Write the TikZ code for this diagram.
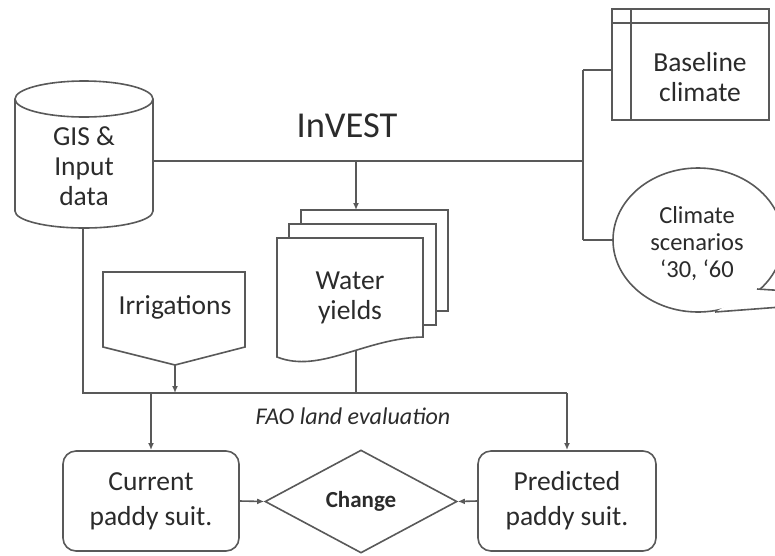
\documentclass[tikz,border=0pt]{standalone}
\usepackage{fontspec}
\setmainfont{Carlito}
\usetikzlibrary{shapes.geometric,arrows.meta,calc}
\definecolor{ln}{HTML}{595959}
\definecolor{tx}{HTML}{2B2B2B}
\begin{document}
\begin{tikzpicture}[x=1pt,y=-1pt,line width=1.6pt,color=ln,
  lbl/.style={text=tx,align=center,inner sep=0,font=\fontsize{27.5}{30}\selectfont},
  arr/.style={-{Latex[length=7pt,width=6pt]}},
  box/.style={draw,fill=white,rounded corners=13,minimum width=176,minimum height=100,inner sep=0,text=tx,align=center,font=\fontsize{27.5}{35}\selectfont}]
\useasboundingbox (0,0) rectangle (775,555);
\clip (0,0) rectangle (775,555);

% connector coordinates
\coordinate (gisE) at (153,161);
\coordinate (gisS) at (83,228);
\coordinate (j1) at (583,161);
\coordinate (j2) at (583,70);
\coordinate (j3) at (583,240);
\coordinate (top) at (356,161);
\coordinate (wyT) at (356,210);
\coordinate (wyB) at (356,340);
\coordinate (hL) at (83,393);
\coordinate (hR) at (567,393);
\coordinate (hI) at (175,393);
\coordinate (hW) at (356,393);
\coordinate (hC) at (151,393);
\coordinate (irrB) at (175,365);

% connectors
\draw (gisE) -- (j1);
\draw (j2) -- (j3);
\draw[arr] (top) -- (wyT);
\draw (gisS) -- (hL) -- (hR);
\draw[arr] (hR) -- (567,450);
\draw[arr] (hC) -- (151,450);
\draw[arr] (irrB) -- (hI);
\draw (wyB) -- (hW);

% GIS cylinder
\fill[white] (15,99) rectangle (153,211);
\begin{scope}
  \clip (0,211) rectangle (200,240);
  \draw[fill=white] (84,211) ellipse [x radius=69, y radius=17];
\end{scope}
\draw (15,99) -- (15,211) (153,99) -- (153,211);
\draw[fill=white] (84,99) ellipse [x radius=69, y radius=18];
\node[lbl] (gis) at (84,166) {GIS \&\\Input\\data};

% InVEST label
\node[text=tx,inner sep=0,font=\fontsize{36.5}{40}\selectfont] (invest) at (347,126) {InVEST};

% Baseline climate
\node[draw,fill=white,minimum width=157,minimum height=111,inner sep=0] (base) at (690.5,64.5) {};
\draw ($(base.north west)+(0,15)$) -- ($(base.north east)+(0,15)$);
\draw ($(base.north west)+(20,0)$) -- ($(base.south west)+(20,0)$);
\node[lbl] (basetxt) at (700,77) {Baseline\\climate};
\draw (j2) -- (j2 -| base.west);

% Climate scenarios (callout)
\node[ellipse,draw,fill=white,minimum width=170,minimum height=144,inner sep=0] (clim) at (698,240) {};
\coordinate (cUp) at (757,289);
\coordinate (cLo) at (715,312);
\coordinate (cTip) at (900,298);
\fill[white] (cUp) -- (cTip) -- (cLo) -- cycle;
\draw (cUp) -- (cTip) (cLo) -- (cTip);
\node[lbl,font=\fontsize{24.5}{27}\selectfont] (climtxt) at (697,244) {Climate\\scenarios\\‘30, ‘60};
\draw (j3) -- (clim.west);

% Water yields (multi-document)
\draw[fill=white] (301,224) -- (301,210) -- (448,210) -- (448,311) -- (436,311);
\draw[fill=white] (289,238) -- (289,224) -- (436,224) -- (436,325) -- (423,325);
\draw[fill=white] (277,238) -- (423,238) -- (423,337)
   .. controls (365,338) and (320,374) .. (277,357) -- cycle;
\node[lbl] (wy) at (350,298) {Water\\yields};

% Irrigations
\draw[fill=white] (103,272) -- (245,272) -- (245,347) -- (175,365) -- (103,347) -- cycle;
\node[lbl] (irr) at (175,307) {Irrigations};

% FAO label
\node[text=tx,inner sep=0,font=\itshape\fontsize{24}{26}\selectfont] (fao) at (353,416) {FAO land evaluation};

% bottom row
\node[box] (cur) at (151,501) {Current\\paddy suit.};
\node[box,minimum width=178] (pred) at (567,501) {Predicted\\paddy suit.};
\node[diamond,draw,fill=white,minimum width=192,minimum height=103,inner sep=0,text=tx,
      font=\bfseries\fontsize{23}{26}\selectfont] (chg) at (361,501.5) {Change};
\draw[arr] (cur.east) -- (chg.west);
\draw[arr] (pred.west) -- (chg.east);
\end{tikzpicture}
\end{document}
